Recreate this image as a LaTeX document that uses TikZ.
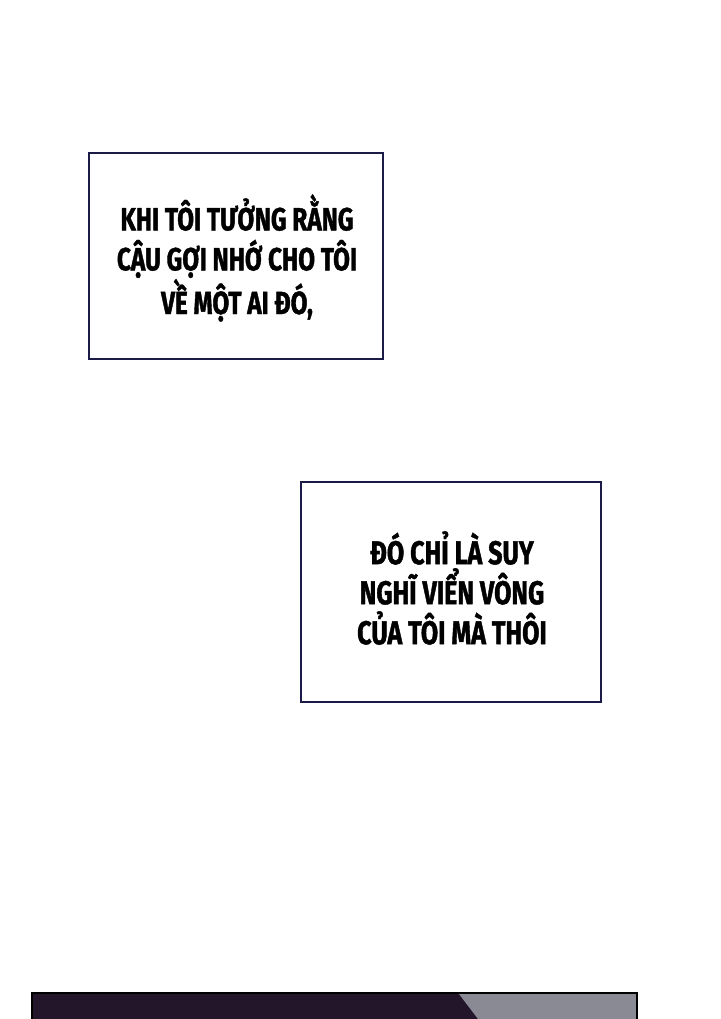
\documentclass[tikz,border=0pt]{standalone}
\usepackage{fontspec}
\newfontfamily\capfont[FakeStretch=0.76,BoldFeatures={FakeBold=1.2}]{Fira Sans}
\usetikzlibrary{positioning}
\definecolor{boxline}{HTML}{1C1A48}
\definecolor{bandpurple}{HTML}{24162A}
\definecolor{bandgrey}{HTML}{8A8A94}

\begin{document}
\begin{tikzpicture}[x=1pt,y=-1pt,
    caption box/.style={draw=boxline,line width=1.6pt,fill=white,inner sep=0pt},
    caption text/.style 2 args={align=center,text=black,font=\capfont\bfseries\fontsize{#1}{#2}\selectfont}]
  \useasboundingbox[fill=white] (0,0) rectangle (720,1019);
  % caption boxes
  \node[caption box,minimum width=294pt,minimum height=206pt] (boxa) at (236,256) {};
  \node[caption text={32}{40}] (texta) at (237,258) {KHI TÔI TƯỞNG RẰNG\\CẬU GỢI NHỚ CHO TÔI\\VỀ MỘT AI ĐÓ,};
  \node[caption box,minimum width=300pt,minimum height=220pt] (boxb) at (451,592) {};
  \node[caption text={33}{40}] (textb) at (452,588) {ĐÓ CHỈ LÀ SUY\\NGHĨ VIỂN VÔNG\\CỦA TÔI MÀ THÔI};
  % bottom panel
  \fill[bandpurple] (32,993) rectangle (637,1019);
  \fill[bandgrey] (459,994) -- (637,994) -- (637,1019) -- (478,1019) -- cycle;
  \draw[black,line width=2pt] (32,1019) -- (32,993) -- (637,993) -- (637,1019);
\end{tikzpicture}
\end{document}
